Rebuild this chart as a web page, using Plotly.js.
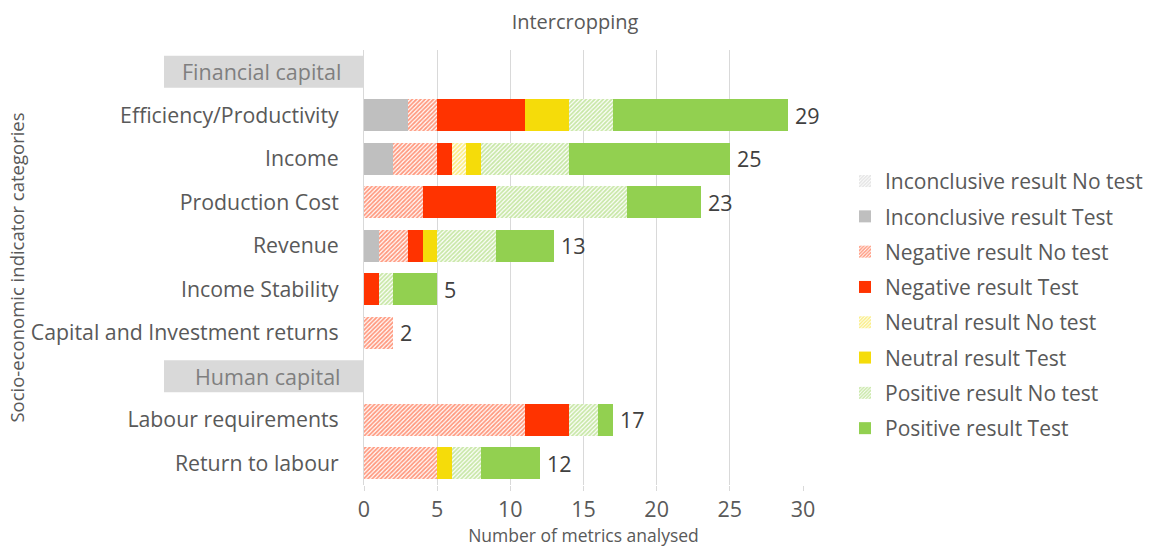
<!DOCTYPE html>
<html>
<head>
<meta charset="utf-8">
<script src="https://cdn.plot.ly/plotly-3.0.1.min.js"></script>
<style>html,body{margin:0;padding:0;background:#fff;}#chart{width:1151px;height:556px;}</style>
</head>
<body>
<div id="chart"></div>
<script>
// Categories (top to bottom); header rows included
const categories = [
  "Financial capital",
  "Efficiency/Productivity",
  "Income",
  "Production Cost",
  "Revenue",
  "Income Stability",
  "Capital and Investment returns",
  "Human capital",
  "Labour requirements",
  "Return to labour"
];
const headerRows = ["Financial capital", "Human capital"];

const seriesNames = [
  "Inconclusive result No test",
  "Inconclusive result Test",
  "Negative result No test",
  "Negative result Test",
  "Neutral result No test",
  "Neutral result Test",
  "Positive result No test",
  "Positive result Test"
];

const inconclusiveNoTest = [0, 0, 0, 0, 0, 0, 0, 0, 0, 0];
const inconclusiveTest   = [0, 3, 2, 0, 1, 0, 0, 0, 0, 0];
const negativeNoTest     = [0, 2, 3, 4, 2, 0, 2, 0, 11, 5];
const negativeTest       = [0, 6, 1, 5, 1, 1, 0, 0, 3, 0];
const neutralNoTest      = [0, 0, 1, 0, 0, 0, 0, 0, 0, 0];
const neutralTest        = [0, 3, 1, 0, 1, 0, 0, 0, 0, 1];
const positiveNoTest     = [0, 3, 6, 9, 4, 1, 0, 0, 2, 2];
const positiveTest       = [0, 12, 11, 5, 4, 3, 0, 0, 1, 4];

const xTicks = [0, 5, 10, 15, 20, 25, 30];

const seriesValues = [inconclusiveNoTest, inconclusiveTest, negativeNoTest, negativeTest,
                      neutralNoTest, neutralTest, positiveNoTest, positiveTest];
const colors = ["#c8c8c8", "#bfbfbf", "#ff3300", "#ff3300", "#f5dc0a", "#f5dc0a", "#92d050", "#92d050"];
const hatched = [true, false, true, false, true, false, true, false];
const FONT = "Open Sans, sans-serif";

const traces = seriesNames.map((name, i) => {
  const m = {color: hatched[i] ? "#ffffff" : colors[i], line: {width: 0}};
  if (hatched[i]) {
    m.pattern = {shape: "/", fgcolor: colors[i], bgcolor: "#ffffff", size: 3, solidity: 0.6, fillmode: "overlay"};
  }
  return {
    type: "bar", orientation: "h", name: name, legendgroup: "g" + i,
    y: categories, x: seriesValues[i], marker: m,
    width: 0.74, hoverinfo: "x+name"
  };
});

const totals = categories.map((c, j) => seriesValues.reduce((s, arr) => s + arr[j], 0));

const annotations = [];
categories.forEach((c, j) => {
  if (totals[j] > 0) {
    annotations.push({
      xref: "x", yref: "y", x: totals[j], y: c, xanchor: "left", yanchor: "middle",
      xshift: 5, text: String(totals[j]), showarrow: false,
      font: {family: FONT, size: 21.5, color: "#404040"}
    });
  }
});
const shapes = [];
headerRows.forEach(h => {
  const idx = categories.indexOf(h);
  shapes.push({
    type: "rect", xref: "paper", yref: "y", layer: "below",
    x0: -200 / 439, x1: -1 / 439, y0: idx - 0.37, y1: idx + 0.37,
    fillcolor: "#d9d9d9", line: {width: 0}
  });
  annotations.push({
    xref: "paper", yref: "y", x: 0, y: h, xanchor: "right", yanchor: "middle",
    xshift: -21, text: h, showarrow: false,
    font: {family: FONT, size: 21.5, color: "#7f7f7f"}
  });
});

const layout = {
  width: 1151, height: 556,
  margin: {l: 364, r: 348, t: 50, b: 71, autoexpand: false},
  paper_bgcolor: "#ffffff", plot_bgcolor: "#ffffff",
  barmode: "stack",
  font: {family: FONT, color: "#595959"},
  title: {text: "Intercropping", xref: "container", x: 0.4996, xanchor: "center",
          yref: "container", y: 0.96, yanchor: "middle",
          font: {family: FONT, size: 20, color: "#595959"}},
  xaxis: {
    range: [0, 30], tickvals: xTicks, ticktext: xTicks.map(String),
    showgrid: true, gridcolor: "#d9d9d9", gridwidth: 1,
    zeroline: false, showline: false,
    ticks: "outside", ticklen: 5, tickcolor: "#d9d9d9",
    tickfont: {size: 21.5, color: "#595959"},
    title: {text: "Number of metrics analysed", font: {size: 17.5, color: "#595959"}, standoff: 6}
  },
  yaxis: {
    type: "category", categoryorder: "array", categoryarray: categories,
    autorange: "reversed",
    tickvals: categories, ticktext: categories.map(c => headerRows.includes(c) ? "" : c),
    showgrid: false, zeroline: false, showline: true, linecolor: "#d9d9d9", linewidth: 1,
    ticks: "", ticklabelstandoff: 20,
    tickfont: {size: 21.3, color: "#595959"},
    title: {text: "Socio-economic indicator categories", font: {size: 18.5, color: "#595959"}}
  },
  legend: {
    x: (845 - 364) / 439, xanchor: "left", y: 0.414, yanchor: "middle",
    traceorder: "grouped", tracegroupgap: 5, itemwidth: 30,
    font: {family: FONT, size: 21, color: "#595959"}
  },
  annotations: annotations,
  shapes: shapes,
  showlegend: true
};

Plotly.newPlot("chart", traces, layout, {displayModeBar: false, staticPlot: true});
</script>
</body>
</html>
